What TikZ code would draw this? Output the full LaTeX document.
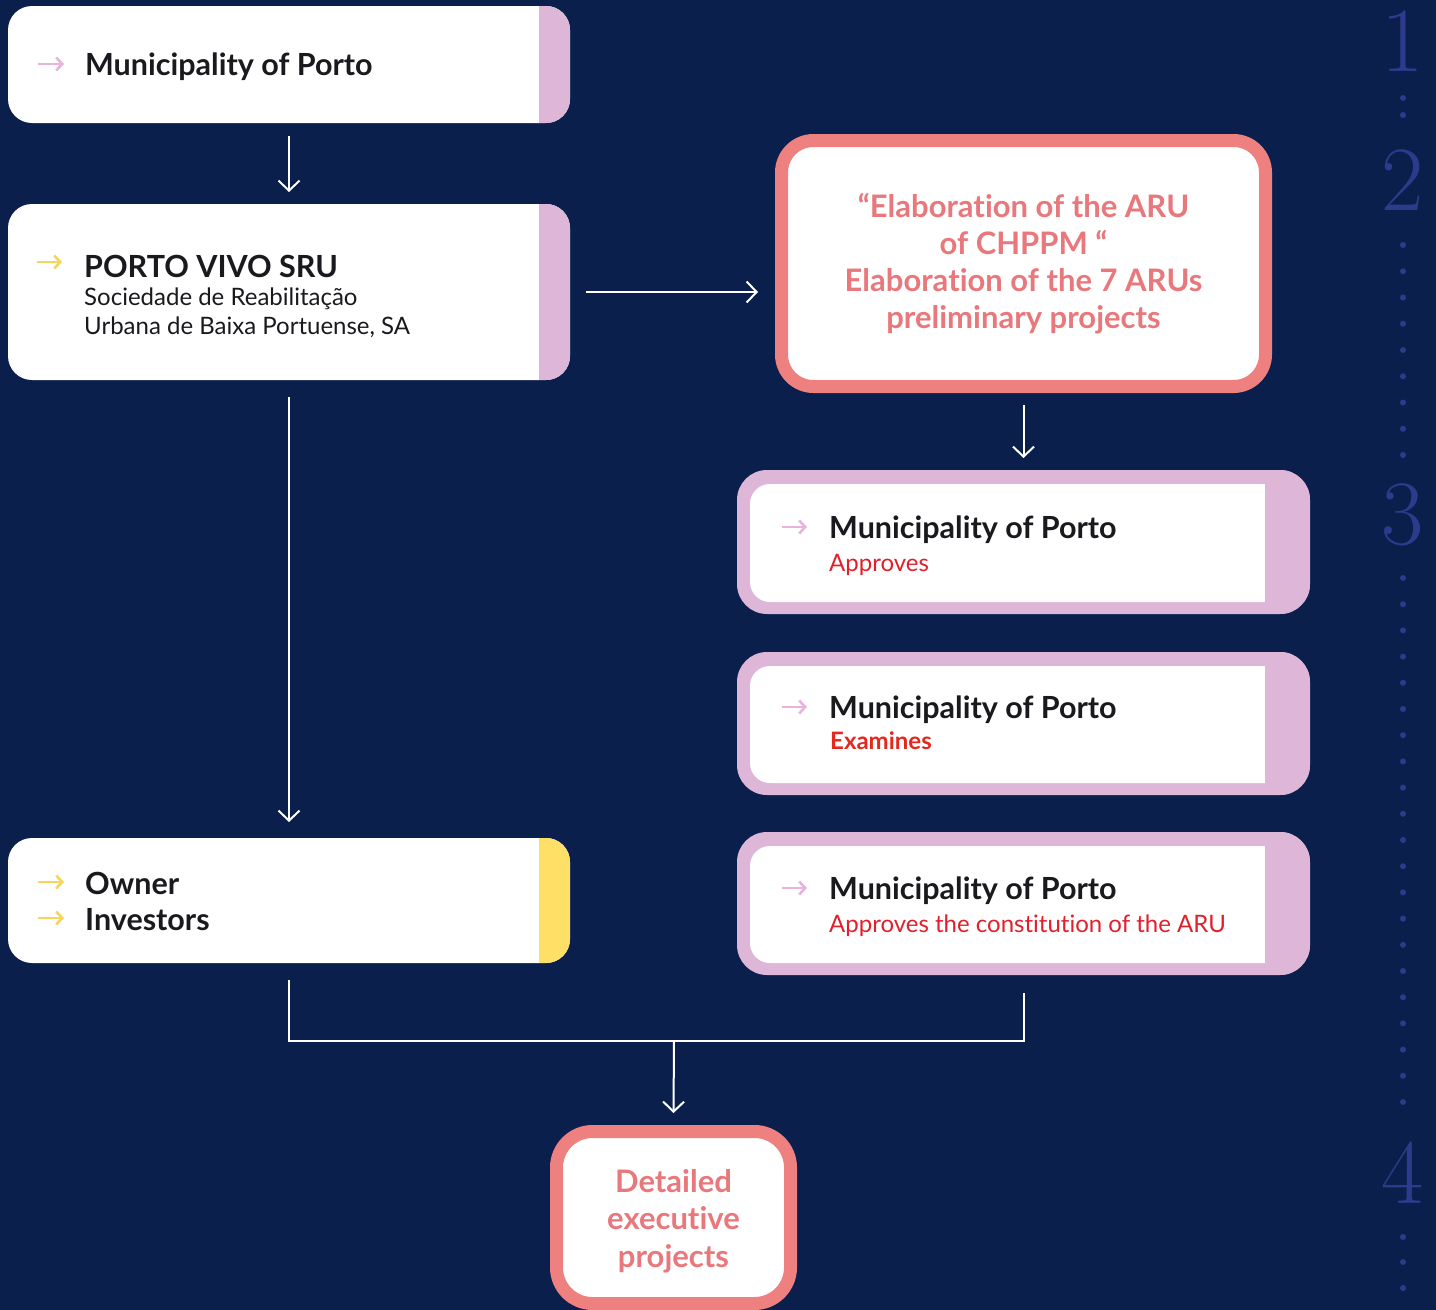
\documentclass[tikz,border=0pt]{standalone}
\usepackage{fontspec}
\newfontfamily\sansf[Ligatures={NoCommon}]{Lato}
\usetikzlibrary{arrows.meta,calc}
\definecolor{bg}{RGB}{11,31,77}
\definecolor{pinkc}{RGB}{221,182,216}
\definecolor{yel}{RGB}{255,224,102}
\definecolor{coral}{RGB}{238,128,128}
\definecolor{coraltxt}{RGB}{232,120,124}
\definecolor{redt}{RGB}{224,32,44}
\definecolor{redb}{RGB}{228,40,30}
\definecolor{numc}{RGB}{46,58,140}
\definecolor{ink}{RGB}{26,26,30}
\definecolor{pinkarrow}{RGB}{232,180,220}
\definecolor{yelarrow}{RGB}{246,214,90}
\begin{document}
\begin{tikzpicture}[x=1pt,y=-1pt,
  leftbox/.style 2 args={rectangle, rounded corners=24pt, fill=white,
    minimum width=562pt, minimum height=#1, inner sep=0pt, outer sep=0pt,
    path picture={\fill[#2, sharp corners] ($(path picture bounding box.north east)+(-31,0)$) rectangle (path picture bounding box.south east);}},
  rightbox/.style={rectangle, rounded corners=30pt, fill=pinkc,
    minimum width=573pt, minimum height=#1, inner sep=0pt, outer sep=0pt,
    path picture={\fill[white, rounded corners=20pt] ($(path picture bounding box.north west)+(13,14)$) rectangle ($(path picture bounding box.south east)+(-20,-12)$);
      \fill[pinkc, sharp corners] ($(path picture bounding box.north east)+(-45,0)$) rectangle (path picture bounding box.south east);}},
  corbox/.style={rectangle, rounded corners=32pt, draw=coral, line width=13pt, fill=white,
    inner sep=0pt, align=center, text=coraltxt, font=\sansf\bfseries\fontsize{31}{37}\selectfont},
  cortext/.style={inner sep=0pt, align=center, text=coraltxt, font=\sansf\bfseries\fontsize{31}{37.5}\selectfont},
  head/.style={anchor=base west, inner sep=0pt, text=ink, font=\sansf\bfseries\fontsize{30.5}{32}\selectfont},
  sub/.style={anchor=base west, inner sep=0pt, text=ink, font=\sansf\fontsize{24}{26}\selectfont},
  icon/.style={line width=2.6pt, -{Straight Barb[length=6pt,width=13pt]}},
  conn/.style={draw=white, line width=2pt, -{Straight Barb[length=10pt,width=21pt]}},
  link/.style={draw=white, line width=2pt},
  numstyle/.style={inner sep=0pt, text=numc, font=\fontsize{92}{92}\selectfont},
]
\fill[bg] (0,0) rectangle (1436,1310);
\useasboundingbox (0,0) rectangle (1436,1310);

% right-side step numbers
\node[numstyle] (n1) at (1403,41) {1};
\node[numstyle] (n2) at (1403,180) {2};
\node[numstyle] (n3) at (1403,515) {3};
\node[numstyle] (n4) at (1403,1173) {4};
\foreach \yy in {98,115} \fill[numc] (1403,\yy) circle (3pt);
\foreach \k in {0,...,8} \fill[numc] (1403,245+26.25*\k) circle (3pt);
\foreach \k in {0,...,20} \fill[numc] (1403,578+26.2*\k) circle (3pt);
\foreach \yy in {1237,1262,1288} \fill[numc] (1403,\yy) circle (3pt);

% left boxes
\node[leftbox={117pt}{pinkc}] (m1) at (289,64.5) {};
\node[leftbox={176pt}{pinkc}] (m2) at (289,292) {};
\node[leftbox={125pt}{yel}] (own) at (289,900.5) {};

\draw[icon, pinkarrow] (38,64) -- (64,64);
\node[head] (m1t) at (85,75) {Municipality of Porto};

\draw[icon, yelarrow] (37,262) -- (62,262);
\node[head] (m2t) at (84,277) {PORTO VIVO SRU};
\node[sub] (m2s1) at (84,305) {Sociedade de Reabilitação};
\node[sub] (m2s2) at (84,334) {Urbana de Baixa Portuense, SA};

\draw[icon, yelarrow] (38,882) -- (64,882);
\draw[icon, yelarrow] (38,918) -- (64,918);
\node[head] (ownt1) at (85,894) {Owner};
\node[head] (ownt2) at (85,930) {Investors};

% coral boxes
\node[corbox, minimum width=484pt, minimum height=246pt] (ela) at (1023.5,263.5)
  {“Elaboration of the ARU\\ of CHPPM “\\ Elaboration of the 7 ARUs\\ preliminary projects};
\node[corbox, rounded corners=36pt, minimum width=234pt, minimum height=172pt] (det) at (673.5,1217.5) {};
\node[cortext] (dett) at (673.5,1221) {Detailed\\ executive\\ projects};

% right pink boxes
\node[rightbox=144pt] (mun2) at (1023.5,542) {};
\node[rightbox=143pt] (mun3) at (1023.5,723.5) {};
\node[rightbox=143pt] (mun4) at (1023.5,903.5) {};

\draw[icon, pinkarrow] (782,527) -- (807,527);
\node[head] (mun2t) at (829,538) {Municipality of Porto};
\node[sub, text=redt] (mun2s) at (829,571) {Approves};

\draw[icon, pinkarrow] (782,707) -- (807,707);
\node[head] (mun3t) at (829,718) {Municipality of Porto};
\node[sub, text=redb, font=\sansf\bfseries\fontsize{24}{26}\selectfont] (mun3s) at (830,749) {Examines};

\draw[icon, pinkarrow] (782,888) -- (807,888);
\node[head] (mun4t) at (829,899) {Municipality of Porto};
\node[sub, text=redt] (mun4s) at (829,932) {Approves the constitution of the ARU};

% connectors
\draw[conn] ($(m1.south)+(0,13)$) -- ($(m2.north)+(0,-12)$);
\draw[conn] ($(m2.east)+(16,0)$) -- ($(m2.east -| ela.west)+(-17,0)$);
\draw[conn] ($(ela.south)+(0,12)$) -- ($(mun2.north)+(0,-12)$);
\draw[conn] ($(m2.south)+(0,17)$) -- ($(own.north)+(0,-16)$);
\coordinate (j) at (674,1041);
\draw[link] ($(own.south)+(0,17)$) -- (own.south |- j) -- (mun4.south |- j) -- ($(mun4.south)+(0,18)$);
\draw[conn] (j) -- ($(det.north)+(0,-12)$);
\end{tikzpicture}
\end{document}
